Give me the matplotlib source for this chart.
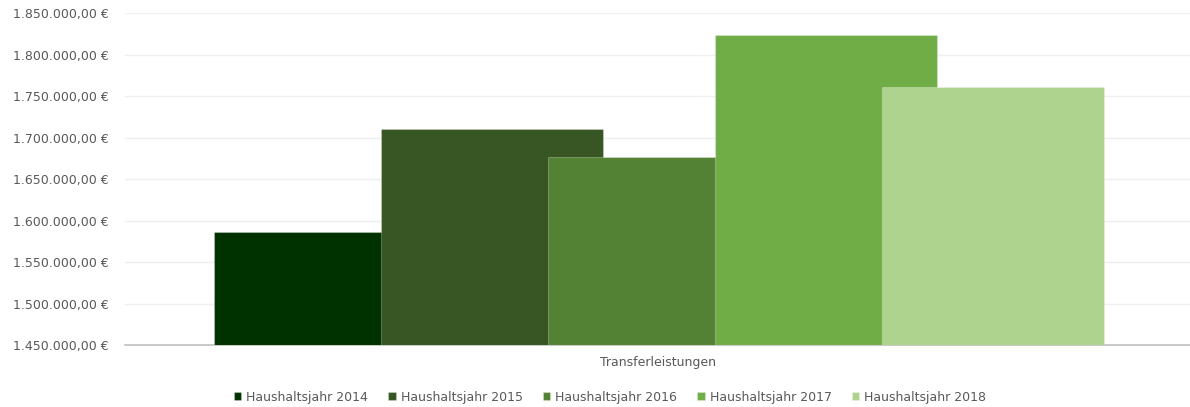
import numpy as np
import matplotlib
matplotlib.use("Agg")
import matplotlib.pyplot as plt
from matplotlib.ticker import FuncFormatter

# --- data ---
category = "Transferleistungen"
series = ["Haushaltsjahr 2014", "Haushaltsjahr 2015", "Haushaltsjahr 2016",
          "Haushaltsjahr 2017", "Haushaltsjahr 2018"]
values = [1586500, 1711000, 1677200, 1823500, 1761200]
colors = ["#003200", "#375623", "#548235", "#70AD47", "#AED38E"]

Y_MIN, Y_MAX, Y_STEP = 1450000, 1850000, 50000
TEXT_COL = "#595959"

plt.rcParams['font.family'] = ['DejaVu Sans']

fig = plt.figure(figsize=(11.9, 4.07), dpi=100)
ax = fig.add_axes([125 / 1190, 61.7 / 407, 1065 / 1190, 332 / 407])

# overlapping clustered bars (Excel style overlap)
step = 167 / 1065
width = 222.5 / 1065
n = len(values)
offsets = (np.arange(n) - (n - 1) / 2) * step + 1.5 / 1065
for off, v, c, lab in zip(offsets, values, colors, series):
    ax.bar(off, v - Y_MIN, bottom=Y_MIN, width=width, color=c,
           edgecolor=(1, 1, 1, 0.25), linewidth=0.8, label=lab, zorder=3)

ax.set_xlim(-0.5, 0.5)
ax.set_ylim(Y_MIN, Y_MAX)
ax.set_yticks(np.arange(Y_MIN, Y_MAX + 1, Y_STEP))


def euro(x, pos):
    s = f"{x:,.2f}".replace(",", "X").replace(".", ",").replace("X", ".")
    return s + " €"


ax.yaxis.set_major_formatter(FuncFormatter(euro))
ax.tick_params(axis='y', length=0, pad=12, labelsize=9, labelcolor=TEXT_COL)
ax.set_xticks([0])
ax.set_xticklabels([category])
ax.tick_params(axis='x', length=0, pad=8, labelsize=9, labelcolor=TEXT_COL)

ax.grid(axis='y', color="#EFEFEF", linewidth=1, zorder=0)
for s in ["top", "right", "left"]:
    ax.spines[s].set_visible(False)
ax.spines["bottom"].set_color("#BFBFBF")
ax.spines["bottom"].set_linewidth(1.2)

leg = fig.legend(loc="center", bbox_to_anchor=(610 / 1190, 10 / 407), ncol=5,
                 frameon=False, fontsize=9, handlelength=0.6, handleheight=0.6,
                 handletextpad=0.4, columnspacing=1.6)
for t in leg.get_texts():
    t.set_color(TEXT_COL)

fig.savefig("out.png", dpi=100)
